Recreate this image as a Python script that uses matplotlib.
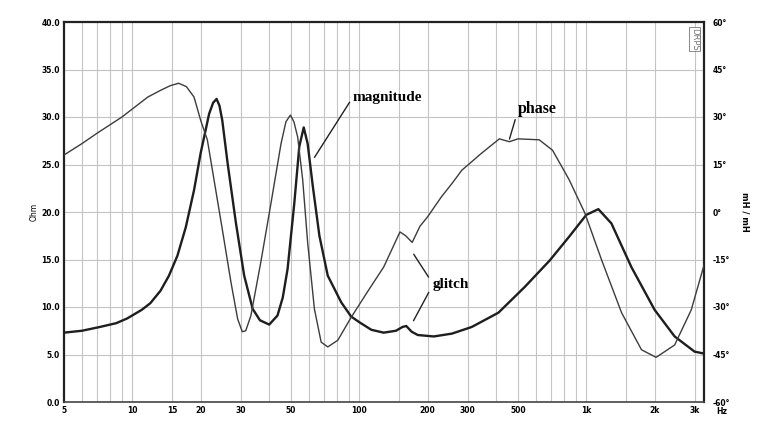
import matplotlib
matplotlib.use("Agg")
import matplotlib.pyplot as plt
from matplotlib.ticker import FixedLocator, NullLocator

# ---- data ----
mag_freq = [5, 6, 7.2, 8.5, 9.5, 11, 12, 13.3, 14.5, 15.8, 17.2, 18.7, 20, 21.8, 22.7, 23.5,
            24.2, 24.9, 26.3, 28.6, 31.1, 33.9, 36.5, 40.1, 43.6, 46, 48.3, 51.7, 54.4, 56.9,
            59.2, 62.4, 66.7, 72.6, 83.2, 92, 100, 113, 128, 145, 155, 161, 170, 181, 213,
            256, 313, 410, 535, 690, 840, 1000, 1130, 1290, 1580, 2000, 2450, 3000, 3300]
mag_ohm = [7.3, 7.5, 7.9, 8.3, 8.8, 9.7, 10.4, 11.7, 13.3, 15.4, 18.4, 22.3, 26.2, 30.35,
           31.5, 31.9, 31.2, 29.65, 25.1, 18.85, 13.3, 9.8, 8.6, 8.15, 9.1, 11.0, 14.0, 20.9,
           26.9, 28.9, 27.2, 22.7, 17.5, 13.3, 10.5, 9.0, 8.4, 7.6, 7.3, 7.5, 7.9, 8.0, 7.4,
           7.05, 6.9, 7.2, 7.9, 9.4, 12.1, 14.9, 17.4, 19.7, 20.3, 18.8, 14.2, 9.7, 6.9, 5.3,
           5.1]

ph_freq = [5, 6, 7, 9, 11.7, 13.3, 14.7, 16.0, 17.3, 18.7, 20, 21.4, 22.9, 24.9, 27.2, 29.1,
           30.5, 31.6, 33.3, 36.8, 40.8, 45.2, 47.5, 49.7, 51.5, 53.5, 56.3, 59.2, 63.4,
           67.9, 72.6, 80.4, 92, 110, 128, 140, 151, 160, 171, 185, 200, 230, 256, 283, 346,
           414, 458, 500, 620, 710, 840, 985, 1170, 1430, 1750, 2030, 2450, 2900, 3300]
ph_deg = [18.0, 21.6, 24.9, 30.0, 36.3, 38.4, 39.9, 40.65, 39.6, 36.3, 28.95, 22.8, 10.2,
          -5.4, -22.2, -33.75, -37.8, -37.5, -32.7, -15.9, 2.7, 21.6, 28.5, 30.6, 28.5, 23.7,
          10.2, -9.6, -30.6, -41.1, -42.6, -40.5, -33.3, -24.6, -17.4, -11.4, -6.3, -7.5,
          -9.6, -4.5, -1.5, 4.8, 9.0, 13.2, 18.6, 23.1, 22.2, 23.1, 22.8, 19.5, 10.2, -0.3,
          -15.3, -31.8, -43.5, -45.9, -42.0, -30.9, -16.8]

grid_freqs = [6, 7, 8, 9, 10, 15, 20, 30, 40, 50, 60, 70, 80, 90, 100, 150, 200, 300, 400,
              500, 600, 700, 800, 900, 1000, 1500, 2000, 3000]
xtick_vals = [5, 10, 15, 20, 30, 50, 100, 200, 300, 500, 1000, 2000, 3000]
xtick_labels = ["5", "10", "15", "20", "30", "50", "100", "200", "300", "500", "1k", "2k", "3k"]
ohm_ticks = [0, 5, 10, 15, 20, 25, 30, 35, 40]
deg_ticks = [-60, -45, -30, -15, 0, 15, 30, 45, 60]

fig = plt.figure(figsize=(7.65, 4.3), dpi=100)
ax = fig.add_axes([64/765, 1-402/430, 640/765, 380/430])
ax.set_xscale("log")
ax.set_xlim(5, 3300)
ax.set_ylim(0, 40)

for f in grid_freqs:
    ax.axvline(f, color="#c4c4c4", lw=0.8, zorder=0)
for o in ohm_ticks[1:-1]:
    ax.axhline(o, color="#c4c4c4", lw=0.8, zorder=0)

ax.xaxis.set_major_locator(FixedLocator(xtick_vals))
ax.xaxis.set_minor_locator(NullLocator())
ax.set_xticklabels(xtick_labels)
ax.set_yticks(ohm_ticks)
ax.set_yticklabels([f"{v:.1f}" for v in ohm_ticks])
ax.tick_params(axis="both", length=0, labelsize=5.5, pad=3)
for lab in ax.get_xticklabels() + ax.get_yticklabels():
    lab.set_fontweight("bold")
ax.set_ylabel("Ohm", fontsize=5.5, labelpad=2)

for s in ["left", "top", "right"]:
    ax.spines[s].set_linewidth(1.6)
    ax.spines[s].set_color("#222222")
ax.spines["bottom"].set_linewidth(1.2)
ax.spines["bottom"].set_color("#444444")

ax.plot(mag_freq, mag_ohm, color="#1e1e1e", lw=1.7, zorder=3)

ax2 = ax.twinx()
ax2.set_ylim(-60, 60)
ax2.set_yticks(deg_ticks)
ax2.set_yticklabels([f"{v}°" for v in deg_ticks])
ax2.tick_params(axis="y", length=0, labelsize=5.5, pad=6)
for lab in ax2.get_yticklabels():
    lab.set_fontweight("bold")
ax2.plot(ph_freq, ph_deg, color="#3c3c3c", lw=1.0, zorder=3)
ax2.set_ylabel("mH / mH", fontsize=6, rotation=270, labelpad=14, fontweight="bold")
for s in ["left", "top", "right", "bottom"]:
    ax2.spines[s].set_visible(False)

fig.text(716/765, 1-411/430, "Hz", fontsize=5.5, fontweight="bold", ha="left", va="center")
ax.text(0.992, 0.985, "DRPS", transform=ax.transAxes, rotation=270, fontsize=6,
        color="#777777", ha="right", va="top",
        bbox=dict(boxstyle="square,pad=0.1", fc="white", ec="#777777", lw=0.6))

serif = ["Liberation Serif", "DejaVu Serif"]
ax.annotate("", xy=(62.5, 25.5), xytext=(92, 31.8),
            arrowprops=dict(arrowstyle="-", color="#222222", lw=1.0))
ax.text(93, 32.0, "magnitude", fontsize=11, fontweight="bold", family=serif,
        ha="left", va="center")
ax.annotate("", xy=(455, 27.4), xytext=(490, 30.0),
            arrowprops=dict(arrowstyle="-", color="#222222", lw=1.0))
ax.text(500, 30.8, "phase", fontsize=11.5, fontweight="bold", family=serif,
        ha="left", va="center")
ax.annotate("", xy=(171, 15.8), xytext=(205, 12.9),
            arrowprops=dict(arrowstyle="-", color="#222222", lw=1.0))
ax.annotate("", xy=(171, 8.3), xytext=(205, 11.8),
            arrowprops=dict(arrowstyle="-", color="#222222", lw=1.0))
ax.text(210, 12.4, "glitch", fontsize=11, fontweight="bold", family=serif,
        ha="left", va="center")

fig.savefig("out.png", dpi=100)
